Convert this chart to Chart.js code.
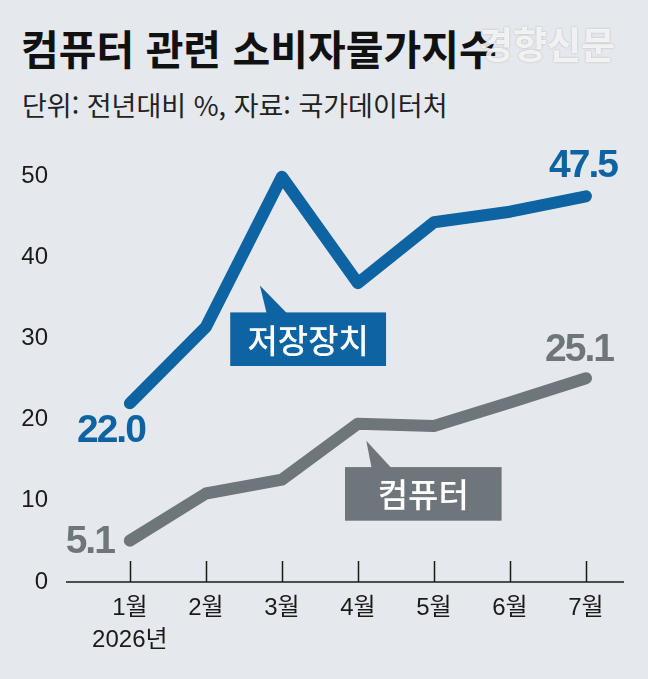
<!DOCTYPE html>
<html lang="ko">
<head>
<meta charset="utf-8">
<script src="https://cdn.jsdelivr.net/npm/chart.js@4.4.1/dist/chart.umd.min.js"></script>
<style>
    html, body {
        margin: 0;
        padding: 0;
        background: #e5e9ed;
    }
    #wrap {
        position: relative;
        width: 648px;
        height: 679px;
        overflow: hidden;
        background: #e5e9ed;
    }
    #title {
        position: absolute;
        left: 21px;
        top: 27px;
        font: bold 41px "Noto Sans CJK KR", sans-serif;
        line-height: 1;
        color: #111;
        white-space: nowrap;
    }
    #sub {
        position: absolute;
        left: 22px;
        top: 91px;
        font: 400 27px "Noto Sans CJK KR", sans-serif;
        line-height: 1;
        color: #222;
        white-space: nowrap;
    }
    #mark {
        position: absolute;
        left: 479px;
        top: 25px;
        font: bold 37px "Noto Sans CJK KR", sans-serif;
        line-height: 1;
        color: rgba(255, 255, 255, 0.82);
        text-shadow: 0 0 2px rgba(120, 120, 120, 0.5);
        white-space: nowrap;
        z-index: 3;
    }
    #chartBox {
        position: absolute;
        left: 0;
        top: 0;
        width: 648px;
        height: 679px;
    }
</style>
</head>
<body>
<div id="wrap">
    <div id="title">컴퓨터 관련 소비자물가지수</div>
    <div id="sub">단위: 전년대비 %, 자료: 국가데이터처</div>
    <div id="mark">경향신문</div>
    <div id="chartBox"><canvas id="priceChart"></canvas></div>
</div>

<script>
// data
var months = ["1월", "2월", "3월", "4월", "5월", "6월", "7월"];
var yearLabel = "2026년";
var storageValues = [22.0, 31.4, 49.9, 36.8, 44.3, 45.6, 47.5];
var computerValues = [5.1, 10.9, 12.6, 19.5, 19.2, 22.1, 25.1];
var yTicks = [0, 10, 20, 30, 40, 50];
var seriesNames = ["저장장치", "컴퓨터"];

var BLUE = "#0e64a2";
var GRAY = "#6e757b";
var numFont = '"Liberation Sans Narrow", "Liberation Sans", "Noto Sans CJK KR", sans-serif';

function toPoints(values) {
    return values.map(function (v, i) {
        return { x: i, y: v };
    });
}

// callout box + pointer, positions in data units
function drawCallout(ctx, xs, ys, c) {
    var x0 = xs.getPixelForValue(c.box[0]);
    var x1 = xs.getPixelForValue(c.box[1]);
    var y0 = ys.getPixelForValue(c.box[2]);
    var y1 = ys.getPixelForValue(c.box[3]);
    ctx.save();
    ctx.fillStyle = c.color;
    ctx.fillRect(x0, y0, x1 - x0, y1 - y0);
    ctx.beginPath();
    ctx.moveTo(xs.getPixelForValue(c.tip[0]), ys.getPixelForValue(c.tip[1]));
    ctx.lineTo(xs.getPixelForValue(c.base[0]), y0 + 1);
    ctx.lineTo(xs.getPixelForValue(c.base[1]), y0 + 1);
    ctx.closePath();
    ctx.fill();
    ctx.fillStyle = "#ffffff";
    ctx.font = '500 33px "Noto Sans CJK KR", sans-serif';
    ctx.textAlign = "center";
    ctx.textBaseline = "middle";
    ctx.fillText(c.text, (x0 + x1) / 2, (y0 + y1) / 2 + 1);
    ctx.restore();
}

function drawValue(ctx, xs, ys, idx, values, color, align, dx, dy) {
    var px = xs.getPixelForValue(idx);
    var py = ys.getPixelForValue(values[idx]);
    ctx.save();
    ctx.fillStyle = color;
    ctx.font = "bold 39px " + numFont;
    ctx.letterSpacing = "-2px";
    ctx.textAlign = align;
    ctx.textBaseline = "middle";
    ctx.fillText(values[idx].toFixed(1), px + dx, py + dy);
    ctx.restore();
}

var decorPlugin = {
    id: "decor",
    beforeDatasetsDraw: function (chart) {
        var ctx = chart.ctx;
        var area = chart.chartArea;
        var xs = chart.scales.x;
        ctx.save();
        ctx.strokeStyle = "#1a1a1a";
        ctx.lineWidth = 1.5;
        ctx.beginPath();
        ctx.moveTo(area.left, area.bottom);
        ctx.lineTo(area.right, area.bottom);
        for (var i = 0; i < months.length; i++) {
            var x = Math.round(xs.getPixelForValue(i)) + 0.5;
            ctx.moveTo(x, area.bottom);
            ctx.lineTo(x, area.bottom - 21);
        }
        ctx.stroke();
        ctx.restore();
    },
    afterDatasetsDraw: function (chart) {
        var ctx = chart.ctx;
        var xs = chart.scales.x;
        var ys = chart.scales.y;
        var last = months.length - 1;

        drawCallout(ctx, xs, ys, {
            box: [1.32, 3.37, 33.2, 26.6],
            tip: [1.71, 36.5],
            base: [1.80, 2.07],
            color: BLUE,
            text: seriesNames[0]
        });
        drawCallout(ctx, xs, ys, {
            box: [2.83, 4.89, 14.15, 7.55],
            tip: [3.11, 17.4],
            base: [3.18, 3.44],
            color: GRAY,
            text: seriesNames[1]
        });

        drawValue(ctx, xs, ys, 0, storageValues, BLUE, "right", 15, 28);
        drawValue(ctx, xs, ys, last, storageValues, BLUE, "right", 31, -30);
        drawValue(ctx, xs, ys, 0, computerValues, GRAY, "right", -16, 2);
        drawValue(ctx, xs, ys, last, computerValues, GRAY, "right", 27, -28);
    }
};

var ctx = document.getElementById("priceChart").getContext("2d");

var data = {
    datasets: [
        {
            label: seriesNames[0],
            data: toPoints(storageValues),
            borderColor: BLUE,
            borderWidth: 12,
            borderCapStyle: "round",
            borderJoinStyle: "round",
            pointRadius: 0,
            tension: 0,
            clip: false
        },
        {
            label: seriesNames[1],
            data: toPoints(computerValues),
            borderColor: GRAY,
            borderWidth: 12,
            borderCapStyle: "round",
            borderJoinStyle: "round",
            pointRadius: 0,
            tension: 0,
            clip: false
        }
    ]
};

var options = {
    responsive: false,
    animation: false,
    maintainAspectRatio: false,
    layout: {
        padding: { top: 176, right: 24, bottom: 0, left: 0 }
    },
    plugins: {
        legend: { display: false },
        tooltip: { enabled: false }
    },
    scales: {
        x: {
            type: "linear",
            min: -0.84,
            max: 6.5,
            grid: { display: false, drawTicks: false },
            border: { display: false },
            afterBuildTicks: function (scale) {
                scale.ticks = months.map(function (m, i) {
                    return { value: i };
                });
            },
            afterFit: function (scale) {
                scale.height = 97;
            },
            ticks: {
                autoSkip: false,
                maxRotation: 0,
                padding: 10,
                color: "#1a1a1a",
                font: { family: numFont, size: 24, lineHeight: 1.33 },
                callback: function (value) {
                    if (value === 0) {
                        return [months[0], yearLabel];
                    }
                    return months[value];
                }
            }
        },
        y: {
            min: 0,
            max: 50,
            grid: { display: false, drawTicks: false },
            border: { display: false },
            afterBuildTicks: function (scale) {
                scale.ticks = yTicks.map(function (v) {
                    return { value: v };
                });
            },
            afterFit: function (scale) {
                scale.width = 66;
            },
            ticks: {
                padding: 18,
                color: "#1a1a1a",
                font: { family: numFont, size: 24 }
            }
        }
    }
};

var canvas = document.getElementById("priceChart");
canvas.width = 648;
canvas.height = 679;
canvas.style.width = "648px";
canvas.style.height = "679px";

var myLineChart = new Chart(ctx, {
    type: "line",
    data: data,
    options: options,
    plugins: [decorPlugin]
});
</script>
</body>
</html>
